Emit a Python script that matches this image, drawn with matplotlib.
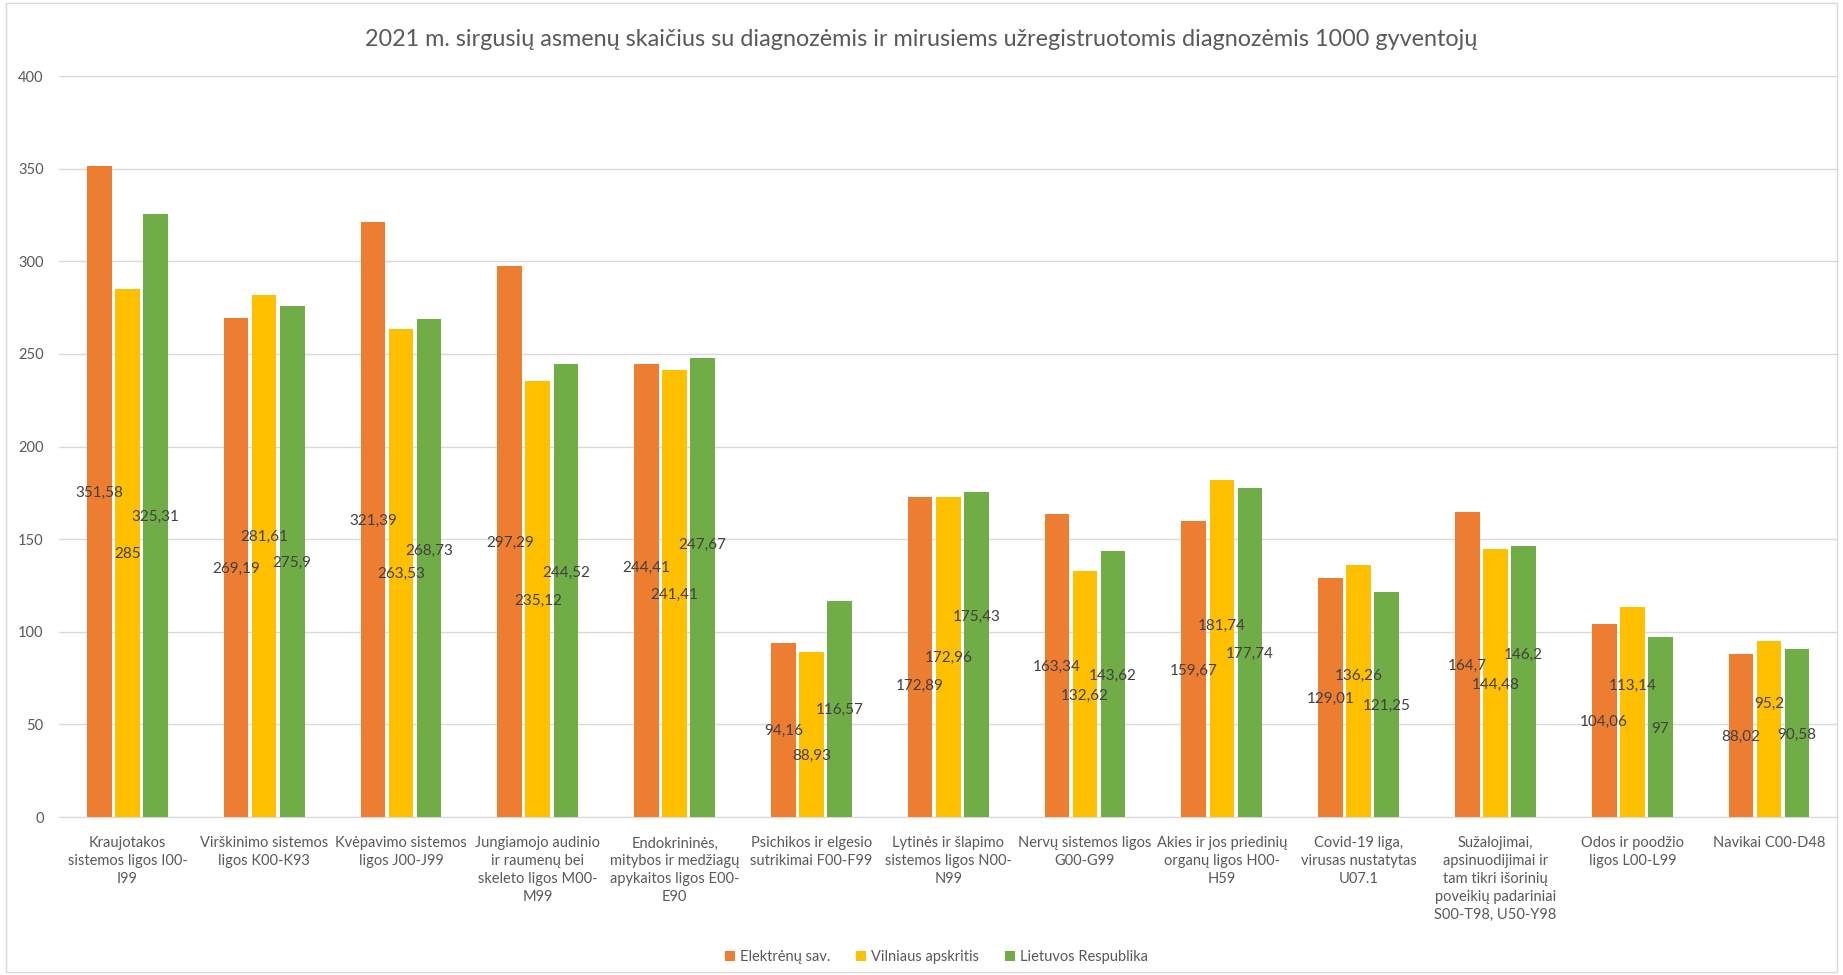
import numpy as np
import matplotlib
matplotlib.use('Agg')
import matplotlib.pyplot as plt
from matplotlib.patches import Rectangle

plt.rcParams['font.family'] = ['Lato', 'DejaVu Sans']

# ── data ──────────────────────────────────────────────────
categories = [
    "Kraujotakos\nsistemos ligos I00-\nI99",
    "Virškinimo sistemos\nligos K00-K93",
    "Kvėpavimo sistemos\nligos J00-J99",
    "Jungiamojo audinio\nir raumenų bei\nskeleto ligos M00-\nM99",
    "Endokrininės,\nmitybos ir medžiagų\napykaitos ligos E00-\nE90",
    "Psichikos ir elgesio\nsutrikimai F00-F99",
    "Lytinės ir šlapimo\nsistemos ligos N00-\nN99",
    "Nervų sistemos ligos\nG00-G99",
    "Akies ir jos priedinių\norganų ligos H00-\nH59",
    "Covid-19 liga,\nvirusas nustatytas\nU07.1",
    "Sužalojimai,\napsinuodijimai ir\ntam tikri išorinių\npoveikių padariniai\nS00-T98, U50-Y98",
    "Odos ir poodžio\nligos L00-L99",
    "Navikai C00-D48",
]
elektrenai = [351.58, 269.19, 321.39, 297.29, 244.41, 94.16, 172.89,
              163.34, 159.67, 129.01, 164.7, 104.06, 88.02]
vilnius    = [285, 281.61, 263.53, 235.12, 241.41, 88.93, 172.96,
              132.62, 181.74, 136.26, 144.48, 113.14, 95.2]
lietuva    = [325.31, 275.9, 268.73, 244.52, 247.67, 116.57, 175.43,
              143.62, 177.74, 121.25, 146.2, 97, 90.58]
series_names = ["Elektrėnų sav.", "Vilniaus apskritis", "Lietuvos Respublika"]
colors = ['#ED7D31', '#FFC000', '#70AD47']
yticks = [0, 50, 100, 150, 200, 250, 300, 350, 400]

# data labels sit at bar centre; some were nudged in the original (y units)
label_shift = [
    [0, 0, 0, 0, 13, 0, -15, 0, 0, 0, 0, 0, 0],
    [0, 11, 0, 0, 0, -10.5, 0, 0, 13, 9, 0, 15, 14],
    [0, 0, 10, 10.5, 24, 0, 21, 5, 0, 0, 15, 0, 0],
]

title = ("2021 m. sirgusių asmenų skaičius su diagnozėmis ir mirusiems "
         "užregistruotomis diagnozėmis 1000 gyventojų")

# ── figure ────────────────────────────────────────────────
fig = plt.figure(figsize=(18.43, 9.75), dpi=100)
ax = fig.add_axes([0.032, 0.162, 0.965, 0.76])

x = np.arange(len(categories))
slot = 0.205
width = 0.18
for i, (vals, name, c) in enumerate(zip([elektrenai, vilnius, lietuva],
                                        series_names, colors)):
    pos = x + (i - 1) * slot
    bars = ax.bar(pos, vals, width=width, color=c, label=name, zorder=3)
    for b, v, dy in zip(bars, vals, label_shift[i]):
        lbl = f"{v:g}".replace('.', ',')
        ax.text(b.get_x() + b.get_width() / 2, v / 2 + dy - 0.7, lbl,
                ha='center', va='center', fontsize=11, color='#404040',
                zorder=4)

ax.set_xlim(-0.5, len(categories) - 0.5)
ax.set_ylim(0, 400)
ax.set_yticks(yticks)
ax.set_xticks(x)
ax.set_xticklabels(categories, fontsize=10.5, color='#595959',
                   linespacing=1.35, va='top')
ax.tick_params(axis='both', length=0, labelsize=10.5, colors='#595959')
ax.tick_params(axis='x', pad=14)
ax.tick_params(axis='y', pad=11)
ax.grid(axis='y', color='#D9D9D9', linewidth=1, zorder=0)
for s in ['top', 'right', 'left']:
    ax.spines[s].set_visible(False)
ax.spines['bottom'].set_color('#D9D9D9')

fig.text(0.5, 1 - 39 / 975, title, ha='center', va='center',
         fontsize=16.8, color='#595959')

ax.legend(loc='center', bbox_to_anchor=(0.508, (975 - 957) / 975),
          bbox_transform=fig.transFigure, ncol=3, frameon=False,
          fontsize=10.5, handlelength=0.7, handleheight=0.7,
          handletextpad=0.3, columnspacing=1.8, labelcolor='#595959')

# chart area border
fig.patches.append(Rectangle((0.003, 0.003), 0.994, 0.994,
                             transform=fig.transFigure, fill=False,
                             edgecolor='#D9D9D9', linewidth=1))

fig.savefig('out.png', dpi=100)
